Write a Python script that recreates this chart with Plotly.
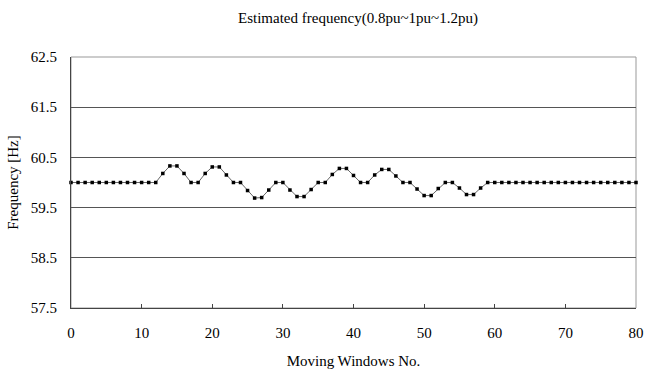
import plotly.graph_objects as go

windows = list(range(0, 81))
freq = ([60.0] * 13 +
        [60.18, 60.33, 60.33, 60.18, 60.0, 60.0, 60.18, 60.31, 60.31, 60.15,
         60.0, 60.0, 59.84, 59.69, 59.70, 59.85, 60.0, 60.0, 59.85, 59.72,
         59.72, 59.86, 60.0, 60.0, 60.16, 60.28, 60.28, 60.14, 60.0, 60.0,
         60.15, 60.26, 60.26, 60.13, 60.0, 60.0, 59.87, 59.74, 59.74, 59.88,
         60.0, 60.0, 59.89, 59.76, 59.76, 59.89] +
        [60.0] * 22)
y_ticks = [57.5, 58.5, 59.5, 60.5, 61.5, 62.5]
x_ticks = [0, 10, 20, 30, 40, 50, 60, 70, 80]

font = "Liberation Serif, Times New Roman, serif"

fig = go.Figure()
fig.add_trace(go.Scatter(
    x=windows, y=freq, mode="lines+markers",
    line=dict(color="#666666", width=1),
    marker=dict(symbol="square", size=3.5, color="black"),
    showlegend=False, cliponaxis=False,
))

fig.update_layout(
    width=645, height=369,
    margin=dict(l=71, r=9, t=57, b=61),
    paper_bgcolor="white", plot_bgcolor="white",
    font=dict(family=font, size=15, color="black"),
    title=dict(text="Estimated frequency(0.8pu~1pu~1.2pu)", x=0.555, xanchor="center",
               y=0.951, yanchor="middle", font=dict(family=font, size=15)),
    xaxis=dict(range=[0, 80], tickvals=x_ticks, ticks="inside", ticklen=4,
               tickcolor="#444", showgrid=False, zeroline=False,
               showline=True, linecolor="#444", linewidth=1,
               automargin=False, ticklabelstandoff=11, ticklabeloverflow="allow",
               tickfont=dict(family=font, size=15),
               title=dict(text="Moving Windows No.", standoff=19,
                          font=dict(family=font, size=15))),
    yaxis=dict(range=[57.5, 62.5], tickvals=y_ticks, ticks="",
               showgrid=True, gridcolor="#555", gridwidth=1, zeroline=False,
               showline=True, linecolor="#444", linewidth=1,
               automargin=False, ticklabelstandoff=10,
               tickfont=dict(family=font, size=15),
               title=dict(text="Frequency [Hz]", standoff=8,
                          font=dict(family=font, size=15))),
)
fig.add_shape(type="rect", xref="paper", yref="paper", x0=0, x1=1, y0=0, y1=1,
              line=dict(color="#999", width=1), layer="below")

fig.write_html(
    "out.html",
    config={"displayModeBar": False},
    post_script="document.body.style.margin='0';document.body.style.overflow='hidden';",
)
